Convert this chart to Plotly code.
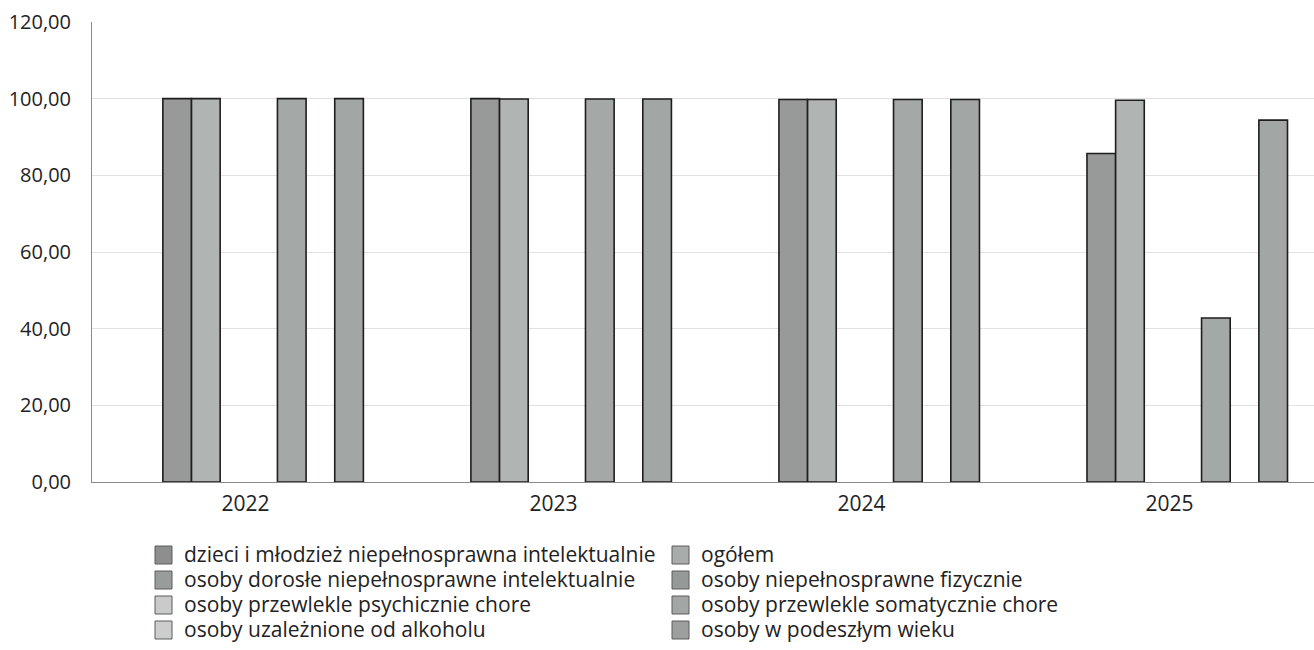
import plotly.graph_objects as go

years = ["2022", "2023", "2024", "2025"]
series_names = [
    "dzieci i młodzież niepełnosprawna intelektualnie",
    "ogółem",
    "osoby dorosłe niepełnosprawne intelektualnie",
    "osoby niepełnosprawne fizycznie",
    "osoby przewlekle psychicznie chore",
    "osoby przewlekle somatycznie chore",
    "osoby uzależnione od alkoholu",
    "osoby w podeszłym wieku",
]
dzieci = [100.0, 100.0, 99.8, 85.7]
ogolem = [100.0, 99.9, 99.8, 99.6]
dorosle = [0, 0, 0, 0]
fizycznie = [0, 0, 0, 0]
psychicznie = [100.0, 99.9, 99.8, 42.8]
somatycznie = [0, 0, 0, 0]
alkohol = [100.0, 99.9, 99.8, 94.4]
podeszly = [0, 0, 0, 0]
y_ticks = [0, 20, 40, 60, 80, 100, 120]

values = [dzieci, ogolem, dorosle, fizycznie, psychicznie, somatycznie, alkohol, podeszly]
bar_colors = ["#979a98", "#b0b4b2", "#a3a6a4", "#9a9d9b", "#a4a8a6", "#a3a7a5", "#a2a6a4", "#9fa3a1"]
swatch_colors = ["#8c8f8d", "#a8acaa", "#989c9a", "#959997", "#c8cbc9", "#a2a6a4", "#cbcecc", "#9c9f9d"]

# layout geometry (pixels)
W, H = 1314, 650
L, R, T, B = 92, 0, 22, 168
PW, PH = W - L - R, H - T - B


def px_x(p):
    return (p - L) / PW


def px_y(p):
    return (H - B - p) / PH


xpos = list(range(len(years)))
fig = go.Figure()
for name, vals, col in zip(series_names, values, bar_colors):
    fig.add_trace(go.Bar(
        x=xpos, y=vals, name=name, showlegend=False,
        marker=dict(color=col,
                    line=dict(color="#1e1e1e", width=[1.6 if v > 0 else 0 for v in vals])),
    ))

# legend drawn as two columns, row-major
col_swatch_x = [155, 672]
col_text_x = [182, 699]
row_y = [555, 580, 605, 630]
shapes = []
annotations = []
for i, (name, col) in enumerate(zip(series_names, swatch_colors)):
    r, c = divmod(i, 2)
    sx = col_swatch_x[c]
    cy = row_y[r]
    shapes.append(dict(
        type="rect", xref="paper", yref="paper",
        x0=px_x(sx), x1=px_x(sx + 17), y0=px_y(cy + 9), y1=px_y(cy - 9),
        fillcolor=col, line=dict(color="#5a5c5b", width=1),
    ))
    annotations.append(dict(
        xref="paper", yref="paper", x=px_x(col_text_x[c]), y=px_y(cy - 1),
        xanchor="left", yanchor="middle", text=name, showarrow=False,
        font=dict(size=21, color="#222"),
    ))

fig.update_layout(
    width=W, height=H,
    barmode="group", bargap=0.256, bargroupgap=0,
    paper_bgcolor="white", plot_bgcolor="white",
    margin=dict(l=L, r=R, t=T, b=B, autoexpand=False),
    separators=", ",
    font=dict(family="Open Sans, Noto Sans, sans-serif", size=20, color="#222"),
    showlegend=False,
    shapes=shapes,
    annotations=annotations,
    xaxis=dict(
        range=[-0.602, 3.365], tickmode="array",
        tickvals=[i - 0.104 for i in xpos], ticktext=years,
        tickfont=dict(size=21),
        showgrid=False, zeroline=False, showline=True, linecolor="#8a8a8a", linewidth=1,
        ticks="", ticklabelstandoff=3, automargin=False,
    ),
    yaxis=dict(
        range=[0, 120], tickmode="array", tickvals=y_ticks, tickformat=".2f",
        showgrid=True, gridcolor="#e2e2e2", gridwidth=1, zeroline=False,
        showline=True, linecolor="#8a8a8a", linewidth=1, ticks="", ticklabelstandoff=16,
        automargin=False,
    ),
)
fig.write_html(
    "out.html",
    config={"displayModeBar": False},
    post_script="document.body.style.margin='0px';document.body.style.overflow='hidden';",
)
